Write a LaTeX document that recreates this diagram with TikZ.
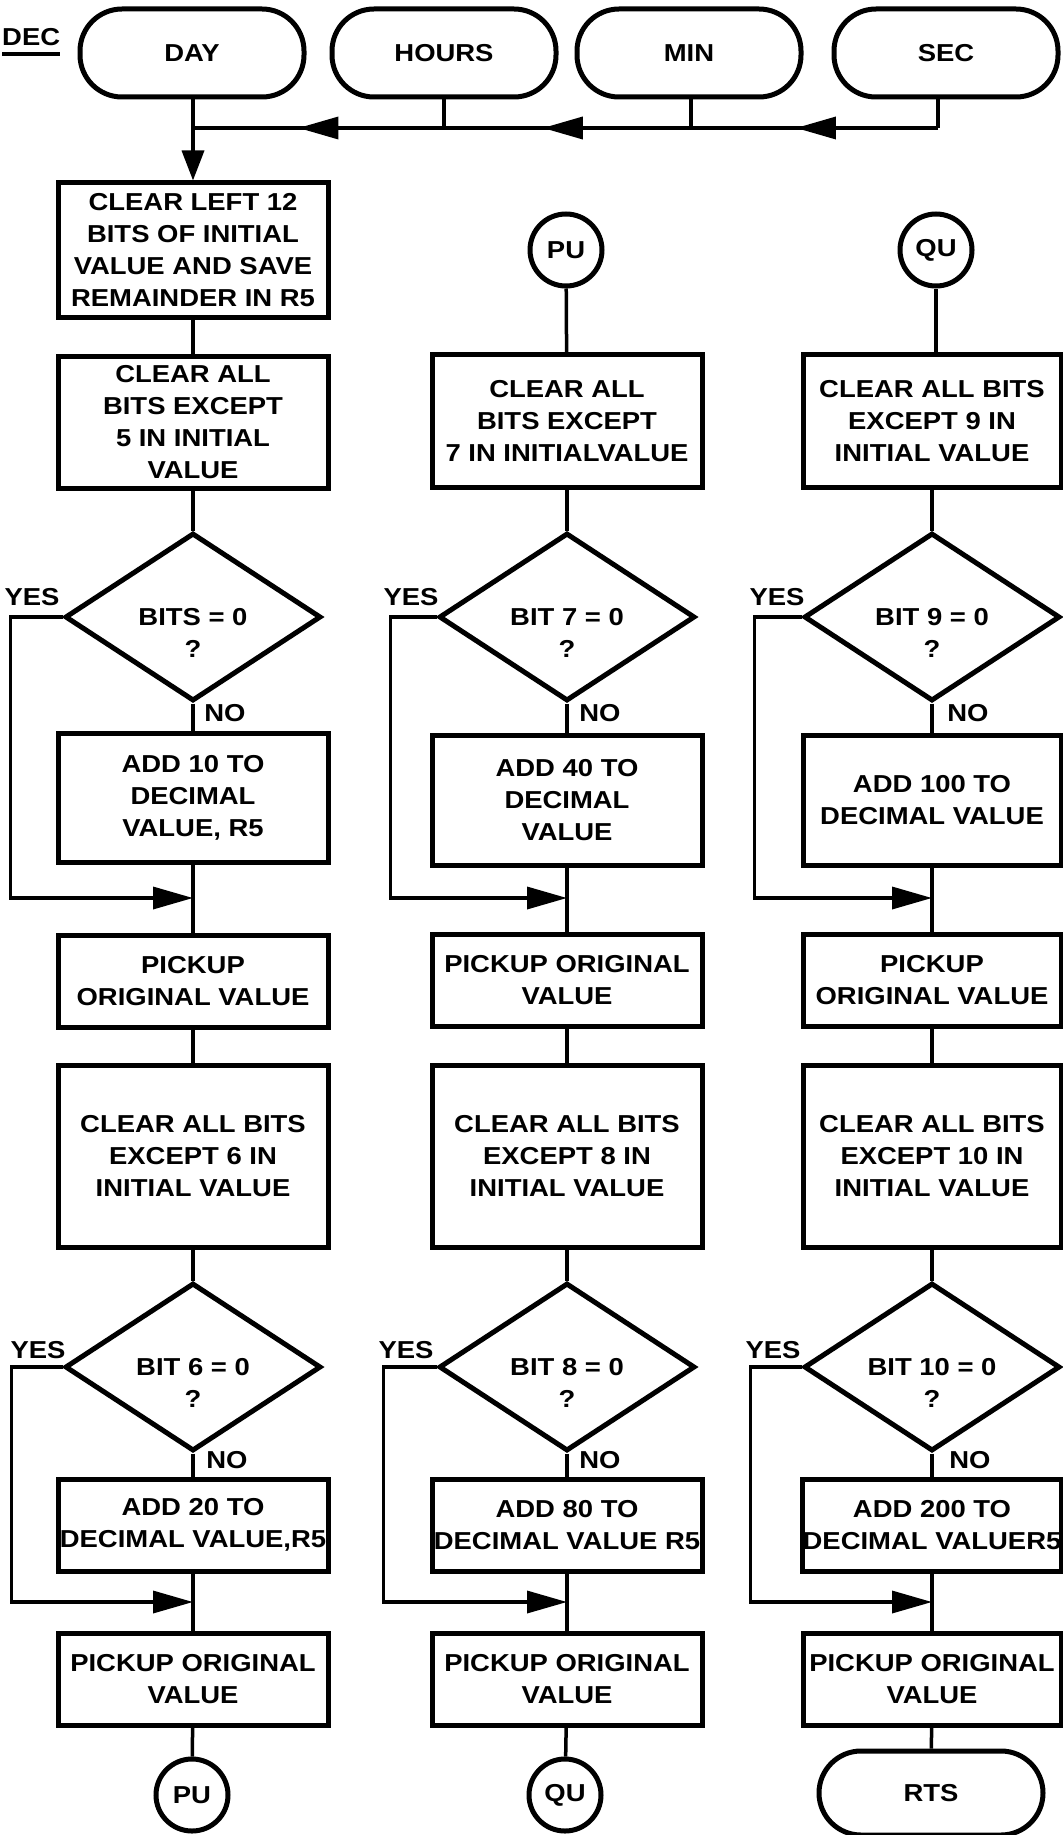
\documentclass[tikz,border=0pt]{standalone}
\usepackage{fontspec}
\setmainfont{Liberation Sans}[FakeStretch=1.12]
\usetikzlibrary{shapes.geometric,arrows.meta,decorations.markings}
\begin{document}
\begin{tikzpicture}[x=1pt,y=-1pt,
  every node/.style={font=\fontsize{24.5}{32}\selectfont\bfseries, align=center, inner sep=0pt},
  box/.style={draw, line width=5pt, minimum width=270pt},
  boxr/.style={draw, line width=5pt, minimum width=258pt},
  term/.style={draw, line width=5pt, rounded corners=42pt, minimum width=224pt, minimum height=88pt},
  conn/.style={draw, line width=5pt, circle, minimum size=72pt},
  dia/.style={draw, line width=5pt, diamond, minimum width=256pt, minimum height=168pt},
  line/.style={line width=3.5pt},
  tip/.style={-{Triangle[length=40pt,width=22pt]}},
  midarrow/.style={postaction={decorate}, decoration={markings, mark=at position #1 with {\arrow{Triangle[length=40pt,width=22pt]}}}},
]
\useasboundingbox (0,0) rectangle (1062,1835);
\fill[white] (0,0) rectangle (1062,1835);

% header
\node[anchor=west] (dec) at (2,42) {\rlap{\rule[-10pt]{58pt}{3.5pt}}DEC};
\node[term] (day) at (192,53) {DAY};
\node[term] (hours) at (444,53) {HOURS};
\node[term] (min) at (689,53) {MIN};
\node[term] (sec) at (946,53) {SEC};
\coordinate (jS) at (938,128);
\coordinate (jM) at (691,128);
\coordinate (jH) at (444,128);
\coordinate (jD) at (193,128);

% column 1
\node[box, minimum height=134pt] (b1) at (193,250) {CLEAR LEFT 12\\BITS OF INITIAL\\VALUE AND SAVE\\REMAINDER IN R5};
\node[box, minimum height=132pt] (b2) at (193,422) {CLEAR ALL\\BITS EXCEPT\\5 IN INITIAL\\VALUE};
\node[dia] (d1) at (193,617) {};
\node (d1t) at ([yshift=-16pt]d1.center) {BITS = 0\\?};
\node[box, minimum height=129pt] (a1) at (193,798) {ADD 10 TO\\DECIMAL\\VALUE, R5};
\node[box, minimum height=92pt] (p1) at (193,981) {PICKUP\\ORIGINAL VALUE};
\node[box, minimum height=182pt] (e1) at (193,1156) {CLEAR ALL BITS\\EXCEPT 6 IN\\INITIAL VALUE};
\node[dia] (f1) at (193,1367) {};
\node (f1t) at ([yshift=-16pt]f1.center) {BIT 6 = 0\\?};
\node[box, minimum height=92pt] (g1) at (193,1525) {ADD 20 TO\\DECIMAL VALUE,R5};
\node[box, minimum height=92pt] (h1) at (193,1679) {PICKUP ORIGINAL\\VALUE};
\node[conn] (pu2) at (192,1795) {PU};
\coordinate (m1) at (193,898);
\coordinate (n1) at (193,1602);

% column 2
\node[conn] (pu1) at (566,250) {PU};
\node[box, minimum height=133pt] (b3) at (567,421) {CLEAR ALL\\BITS EXCEPT\\7 IN INITIALVALUE};
\node[dia] (d2) at (567,617) {};
\node (d2t) at ([yshift=-16pt]d2.center) {BIT 7 = 0\\?};
\node[box, minimum height=130pt] (a2) at (567,800) {ADD 40 TO\\DECIMAL\\VALUE};
\node[box, minimum height=92pt] (p2) at (567,980) {PICKUP ORIGINAL\\VALUE};
\node[box, minimum height=182pt] (e2) at (567,1156) {CLEAR ALL BITS\\EXCEPT 8 IN\\INITIAL VALUE};
\node[dia] (f2) at (567,1367) {};
\node (f2t) at ([yshift=-16pt]f2.center) {BIT 8 = 0\\?};
\node[box, minimum height=92pt] (g2) at (567,1525) {ADD 80 TO\\DECIMAL VALUE R5};
\node[box, minimum height=92pt] (h2) at (567,1679) {PICKUP ORIGINAL\\VALUE};
\node[conn] (qu2) at (565,1795) {QU};
\coordinate (m2) at (567,898);
\coordinate (n2) at (567,1602);

% column 3
\node[conn] (qu1) at (936,250) {QU};
\node[boxr, minimum height=133pt] (b4) at (932,421) {CLEAR ALL BITS\\EXCEPT 9 IN\\INITIAL VALUE};
\node[dia] (d3) at (932,617) {};
\node (d3t) at ([yshift=-16pt]d3.center) {BIT 9 = 0\\?};
\node[boxr, minimum height=130pt] (a3) at (932,800) {ADD 100 TO\\DECIMAL VALUE};
\node[boxr, minimum height=92pt] (p3) at (932,980) {PICKUP\\ORIGINAL VALUE};
\node[boxr, minimum height=182pt] (e3) at (932,1156) {CLEAR ALL BITS\\EXCEPT 10 IN\\INITIAL VALUE};
\node[dia] (f3) at (932,1367) {};
\node (f3t) at ([yshift=-16pt]f3.center) {BIT 10 = 0\\?};
\node[boxr, minimum height=92pt] (g3) at (932,1525) {ADD 200 TO\\DECIMAL VALUER5};
\node[boxr, minimum height=92pt] (h3) at (932,1679) {PICKUP ORIGINAL\\VALUE};
\node[term, minimum height=84pt] (rts) at (931,1793) {RTS};
\coordinate (m3) at (932,898);
\coordinate (n3) at (932,1602);

% YES / NO labels
\node (y1) at (32,597) {YES};
\node (y2) at (411,597) {YES};
\node (y3) at (777,597) {YES};
\node (y4) at (38,1350) {YES};
\node (y5) at (406,1350) {YES};
\node (y6) at (773,1350) {YES};
\node (no1) at (225,713) {NO};
\node (no2) at (600,713) {NO};
\node (no3) at (968,713) {NO};
\node (no4) at (227,1460) {NO};
\node (no5) at (600,1460) {NO};
\node (no6) at (970,1460) {NO};

% header connectors
\draw[line] (sec.south -| jS) -- (jS);
\draw[line] (min.south -| jM) -- (jM);
\draw[line] (hours.south) -- (jH);
\draw[line] (day.south -| jD) -- (jD);
\draw[line, midarrow=0.575] (jS) -- (jM);
\draw[line, midarrow=0.6] (jM) -- (jH);
\draw[line, midarrow=0.58] (jH) -- (jD);
\draw[line, -{Triangle[length=30pt,width=22pt]}] (jD) -- (b1.north);

% column 1 connectors
\draw[line] (b1) -- (b2);
\draw[line] (b2) -- (d1);
\draw[line] (d1) -- (a1);
\draw[line] (a1) -- (p1);
\draw[line] (p1) -- (e1);
\draw[line] (e1) -- (f1);
\draw[line] (f1) -- (g1);
\draw[line] (g1) -- (h1);
\draw[line] (h1) -- (pu2);
\draw[line, tip] (d1.west) -- ++(-52,0) |- (m1);
\draw[line, tip] (f1.west) -- ++(-51,0) |- (n1);

% column 2 connectors
\draw[line] (pu1) -- (b3);
\draw[line] (b3) -- (d2);
\draw[line] (d2) -- (a2);
\draw[line] (a2) -- (p2);
\draw[line] (p2) -- (e2);
\draw[line] (e2) -- (f2);
\draw[line] (f2) -- (g2);
\draw[line] (g2) -- (h2);
\draw[line] (h2) -- (qu2);
\draw[line, tip] (d2.west) -- ++(-46,0) |- (m2);
\draw[line, tip] (f2.west) -- ++(-53,0) |- (n2);

% column 3 connectors
\draw[line] (qu1) -- (qu1 |- b4.north);
\draw[line] (b4) -- (d3);
\draw[line] (d3) -- (a3);
\draw[line] (a3) -- (p3);
\draw[line] (p3) -- (e3);
\draw[line] (e3) -- (f3);
\draw[line] (f3) -- (g3);
\draw[line] (g3) -- (h3);
\draw[line] (h3) -- (rts);
\draw[line, tip] (d3.west) -- ++(-47,0) |- (m3);
\draw[line, tip] (f3.west) -- ++(-51,0) |- (n3);
\end{tikzpicture}
\end{document}
